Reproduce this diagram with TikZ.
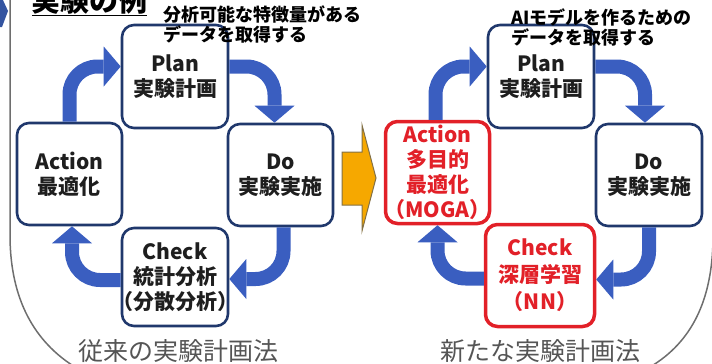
\documentclass[tikz,border=0pt]{standalone}
\usepackage{fontspec}
\setmainfont{Noto Sans CJK JP}
\usetikzlibrary{arrows.meta}
\definecolor{navyc}{RGB}{32,56,108}
\definecolor{bluec}{RGB}{58,94,192}
\definecolor{redc}{RGB}{226,32,40}
\definecolor{txtc}{RGB}{30,30,30}
\definecolor{capc}{RGB}{85,85,85}
\definecolor{framec}{RGB}{110,110,110}
\definecolor{orangec}{RGB}{246,168,0}
\definecolor{orangeedge}{RGB}{130,112,70}
\definecolor{chevc}{RGB}{52,84,160}
\tikzset{
  pbox/.style={draw=navyc, line width=2.6pt, fill=white, rounded corners=12pt,
    align=center, font=\fontsize{21}{25}\selectfont\bfseries, text=txtc, inner sep=0pt},
  rbox/.style={pbox, draw=redc, line width=3.5pt, text=redc},
  cyc/.style={draw=bluec, line width=14pt, rounded corners=28pt,
    -{Triangle[length=17pt,width=40pt,line width=0pt]}},
  notetext/.style={anchor=north west, align=left, inner sep=0pt,
    font=\fontsize{18}{20}\selectfont\bfseries, text=black},
  captext/.style={inner sep=0pt, font=\fontsize{25}{28}\selectfont, text=capc},
  frameline/.style={draw=framec, line width=1.5pt}
}
\begin{document}
\begin{tikzpicture}[x=1pt,y=-1pt]
\useasboundingbox (0,0) rectangle (712,364);
% frame lines
\path[frameline] (10,-5) -- (10,235) .. controls (10,300) and (35,342) .. (75,367);
\path[frameline] (713,240) .. controls (712,300) and (692,342) .. (650,367);
% chevron
\fill[chevc] (-2,-2) -- (2,-2) -- (8,11) -- (2,27) -- (-2,27) -- cycle;
% heading (cut off at the top, as in the reference)
\node[anchor=base, inner sep=0pt, font=\fontsize{29}{30}\selectfont\bfseries] (head) at (89.5,11) {実験の例};
\draw[line width=1.6pt] (32,15.5) -- (147,15.5);
% left cycle boxes
\node[pbox, minimum width=105pt, minimum height=102pt] (actL) at (69.5,174) {Action\\最適化};
\node[pbox, minimum width=106pt, minimum height=103pt] (planL) at (175,76.5) {Plan\\実験計画};
\node[pbox, minimum width=105pt, minimum height=102pt] (doL) at (280.5,175) {Do\\実験実施};
\node[pbox, minimum width=106pt, minimum height=98pt] (chkL) at (175,277) {Check\\統計分析\\\makebox[90pt]{（分散分析）}};
% right cycle boxes
\node[rbox, minimum width=104pt, minimum height=102pt] (actR) at (437.5,172.5) {Action\\多目的\\最適化\\\makebox[90pt]{（MOGA）}};
\node[pbox, minimum width=106pt, minimum height=103pt] (planR) at (541,76.5) {Plan\\実験計画};
\node[pbox, minimum width=106pt, minimum height=102pt] (doR) at (649,175) {Do\\実験実施};
\node[rbox, font=\fontsize{21}{27}\selectfont\bfseries, minimum width=109pt, minimum height=102pt] (chkR) at (540,275.5) {Check\\深層学習\\（NN）};
% left cycle arrows
\draw[cyc] (actL.north) |- ([yshift=10pt]planL.west);
\draw[cyc] ([yshift=10pt]planL.east) -| ([xshift=-6pt]doL.north);
\draw[cyc] ([xshift=3pt]doL.south) |- ([yshift=-2pt]chkL.east);
\draw[cyc] ([yshift=-3pt]chkL.west) -| ([xshift=2.5pt]actL.south);
% right cycle arrows
\draw[cyc] ([xshift=-2pt]actR.north) |- ([yshift=10pt]planR.west);
\draw[cyc] ([yshift=10pt]planR.east) -| ([xshift=-4pt]doR.north);
\draw[cyc] ([xshift=0pt]doR.south) |- ([yshift=-4pt]chkR.east);
\draw[cyc] ([yshift=-3pt]chkR.west) -| ([xshift=0pt]actR.south);
% orange transition arrow
\filldraw[fill=orangec, draw=orangeedge, line width=1pt, line join=miter]
  (342,152) -- (362,152) -- (362,125) -- (376,178) -- (362,231) -- (362,205) -- (342,205) -- cycle;
% annotations
\node[notetext] (noteL) at (163,6) {分析可能な特徴量がある\\データを取得する};
\node[notetext] (noteR) at (511,8) {AIモデルを作るための\\データを取得する};
% captions
\node[captext] (capL) at (178,351) {従来の実験計画法};
\node[captext] (capR) at (540,351) {新たな実験計画法};
\end{tikzpicture}
\end{document}
